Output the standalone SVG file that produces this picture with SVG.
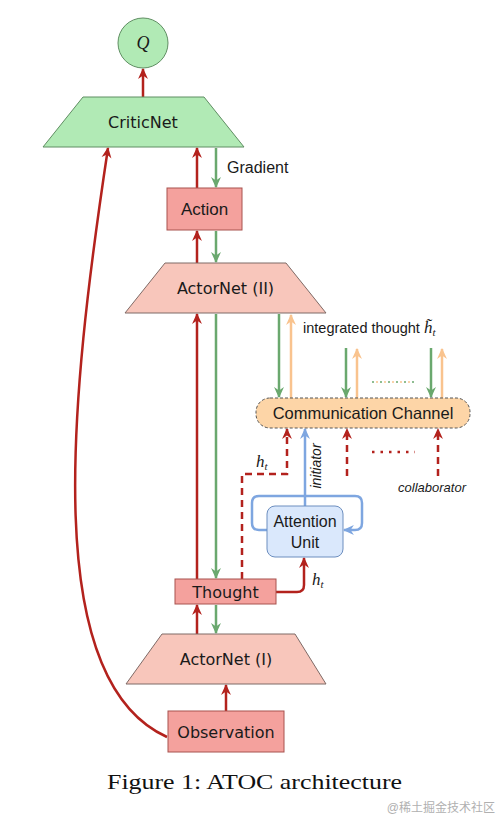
<svg xmlns="http://www.w3.org/2000/svg" width="499" height="819" viewBox="0 0 499 819">
<defs>
<style>
.lbl{font-family:"DejaVu Sans",sans-serif;font-size:16px;fill:#1a1a1a;text-anchor:middle;dominant-baseline:central}
.lbl2{font-family:"Liberation Sans",Arial,sans-serif;fill:#1a1a1a}
.math{font-family:"Liberation Serif","DejaVu Serif",serif;font-style:italic;fill:#1a1a1a}
.red{stroke:#b3221d;stroke-width:2.5;fill:none}
.grn{stroke:#6aa86e;stroke-width:2.5;fill:none}
.org{stroke:#f9c38e;stroke-width:2.5;fill:none}
.blu{stroke:#7ea6e0;stroke-width:2.5;fill:none}
.box{fill:#f4a19d;stroke:#a8524e;stroke-width:1}
.actor{fill:#f8c6bb;stroke:#7f6a66;stroke-width:1}
.critic{fill:#b1eab5;stroke:#5f8e62;stroke-width:1}
</style>
<marker id="mr" viewBox="0 0 10 10" refX="9" refY="5" markerWidth="11" markerHeight="11" markerUnits="userSpaceOnUse" orient="auto"><path d="M0,0.5 L10,5 L0,9.5 L3,5 z" fill="#b3221d"/></marker>
<marker id="mg" viewBox="0 0 10 10" refX="9" refY="5" markerWidth="11" markerHeight="11" markerUnits="userSpaceOnUse" orient="auto"><path d="M0,0.5 L10,5 L0,9.5 L3,5 z" fill="#6aa86e"/></marker>
<marker id="mo" viewBox="0 0 10 10" refX="9" refY="5" markerWidth="11" markerHeight="11" markerUnits="userSpaceOnUse" orient="auto"><path d="M0,0.5 L10,5 L0,9.5 L3,5 z" fill="#f9c38e"/></marker>
<marker id="mb" viewBox="0 0 10 10" refX="9" refY="5" markerWidth="11" markerHeight="11" markerUnits="userSpaceOnUse" orient="auto"><path d="M0,0.5 L10,5 L0,9.5 L3,5 z" fill="#7ea6e0"/></marker>
</defs>
<rect width="499" height="819" fill="#ffffff"/>

<g id="connectors">
<path class="red" d="M143,97 L143,69" marker-end="url(#mr)"/>
<path class="red" d="M197,188 L197,148" marker-end="url(#mr)"/>
<path class="grn" d="M216,148 L216,187" marker-end="url(#mg)"/>
<path class="red" d="M197,263 L197,231" marker-end="url(#mr)"/>
<path class="grn" d="M216,231 L216,262" marker-end="url(#mg)"/>
<path class="red" d="M197,579 L197,314" marker-end="url(#mr)"/>
<path class="grn" d="M216,314 L216,578" marker-end="url(#mg)"/>
<path class="red" d="M197,634 L197,605" marker-end="url(#mr)"/>
<path class="grn" d="M216,605 L216,633" marker-end="url(#mg)"/>
<path class="red" d="M226,711 L226,685" marker-end="url(#mr)"/>
<path class="red" d="M167,737 C40,680 70,400 108,148" marker-end="url(#mr)"/>
<path class="grn" d="M279,314 L279,397" marker-end="url(#mg)"/>
<path class="org" d="M291,398 L291,315" marker-end="url(#mo)"/>
<path class="grn" d="M346,348 L346,397" marker-end="url(#mg)"/>
<path class="org" d="M357,398 L357,349" marker-end="url(#mo)"/>
<path class="grn" d="M431,348 L431,397" marker-end="url(#mg)"/>
<path class="org" d="M442,398 L442,349" marker-end="url(#mo)"/>
<path d="M372,382 L415,382" stroke="#6aa86e" stroke-width="1.5" stroke-dasharray="2,6"/>
<path d="M376,382 L415,382" stroke="#f9c38e" stroke-width="1.5" stroke-dasharray="2,6"/>
<path class="red" d="M242,579 L242,474 L287,474 L287,429" stroke-dasharray="7,5" marker-end="url(#mr)"/>
<path class="red" d="M347,476 L347,429" stroke-dasharray="7,5" marker-end="url(#mr)"/>
<path class="red" d="M438,476 L438,429" stroke-dasharray="7,5" marker-end="url(#mr)"/>
<path class="red" d="M372,452 L415,452" stroke-dasharray="2.5,6"/>
<path class="blu" d="M305,506 L305,429" marker-end="url(#mb)"/>
<path class="blu" d="M268,530 L259,530 Q252,530 252,523 L252,503 Q252,496 259,496 L355,496 Q362,496 362,503 L362,523 Q362,530 355,530 L344,530" marker-end="url(#mb)"/>
<path class="red" d="M276,592 L297,592 Q304,592 304,585 L304,558" marker-end="url(#mr)"/>
</g>

<g id="q">
<circle cx="143" cy="43" r="25" fill="#b1eab5" stroke="#5f8e62" stroke-width="1"/>
<text x="143" y="49" class="math" font-size="18" text-anchor="middle">Q</text>
</g>
<g id="criticnet">
<polygon class="critic" points="83,97 204,97 244,147 43,147"/>
<text x="143" y="122" class="lbl">CriticNet</text>
</g>
<text x="227" y="173" class="lbl2" font-size="16">Gradient</text>
<g id="action">
<rect class="box" x="167" y="188" width="75" height="42"/>
<text x="204.5" y="209" class="lbl2" font-size="17" text-anchor="middle" dominant-baseline="central">Action</text>
</g>
<g id="actornet2">
<polygon class="actor" points="165,263 286,263 326,313 125,313"/>
<text x="225.5" y="288" class="lbl" font-size="17">ActorNet (II)</text>
</g>
<text x="303" y="333" class="lbl2" font-size="14.5">integrated thought <tspan class="math" font-size="17">h̃</tspan><tspan class="math" font-size="11" dy="3">t</tspan></text>
<g id="comm">
<rect x="256" y="398" width="214" height="30" rx="14" fill="#fdd5a7" stroke="#555555" stroke-width="1" stroke-dasharray="3,2"/>
<text x="363" y="413" class="lbl2" font-size="16.5" text-anchor="middle" dominant-baseline="central">Communication Channel</text>
</g>
<text x="256" y="467" class="math" font-size="17">h<tspan font-size="11" dy="3">t</tspan></text>
<text transform="translate(321,466) rotate(-90)" class="lbl2" font-size="14" font-style="italic" text-anchor="middle">initiator</text>
<text x="432" y="492" class="lbl2" font-size="13" font-style="italic" text-anchor="middle">collaborator</text>
<g id="attention">
<rect x="267" y="506" width="76" height="51" rx="8" fill="#dae8fc" stroke="#6c8ebf" stroke-width="1"/>
<text x="305" y="527" class="lbl2" font-size="16" text-anchor="middle">Attention</text>
<text x="305" y="548" class="lbl2" font-size="16" text-anchor="middle">Unit</text>
</g>
<text x="312" y="585" class="math" font-size="17">h<tspan font-size="11" dy="3">t</tspan></text>
<g id="thought">
<rect class="box" x="175" y="579" width="101" height="25"/>
<text x="225.5" y="592" class="lbl">Thought</text>
</g>
<g id="actornet1">
<polygon class="actor" points="162,634 295,634 326,684 126,684"/>
<text x="226" y="659" class="lbl" font-size="17">ActorNet (I)</text>
</g>
<g id="observation">
<rect class="box" x="168" y="711" width="116" height="41"/>
<text x="226" y="732" class="lbl">Observation</text>
</g>
<text x="107" y="789" font-family="'Liberation Serif','Times New Roman',serif" font-size="22" fill="#111" textLength="295" lengthAdjust="spacingAndGlyphs">Figure 1: ATOC architecture</text>
<text x="495" y="812" font-family="'Liberation Sans','Noto Sans CJK SC',sans-serif" font-size="12" fill="#b0b0b0" text-anchor="end">@稀土掘金技术社区</text>
</svg>
